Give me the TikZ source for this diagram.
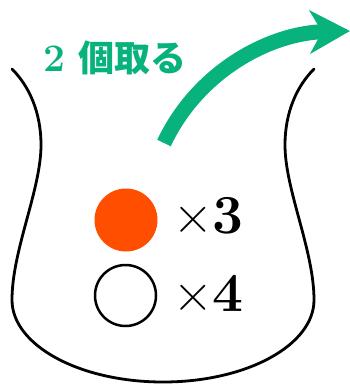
\documentclass[tikz,border=0pt]{standalone}
\usepackage{fontspec}
\newfontfamily\cjk{Noto Sans CJK JP}
\usetikzlibrary{arrows.meta}
\definecolor{pickgreen}{RGB}{8,178,124}
\definecolor{ballred}{RGB}{255,78,0}
\tikzset{
  bagline/.style={line width=2.8pt, line cap=round, line join=round, black},
  ball/.style={circle, minimum size=63pt, inner sep=0pt},
  countlabel/.style={anchor=base west, inner sep=0pt, font=\fontsize{55}{60}\selectfont},
  takelabel/.style={anchor=base west, inner sep=0pt, text=pickgreen, font=\fontsize{36}{40}\selectfont\bfseries},
  takearrow/.style={line width=15pt, pickgreen, -{Stealth[length=40pt, width=43pt, inset=12pt]}}
}
\begin{document}
\begin{tikzpicture}[x=1pt,y=-1pt]
\useasboundingbox (0,0) rectangle (350,385);
% bag
\draw[bagline] (12,69) .. controls (29,86) and (41,112) .. (41,145)
  .. controls (41,190) and (12,250) .. (12,300)
  .. controls (12,345) and (79,382) .. (163,382)
  .. controls (247,382) and (314,345) .. (314,300)
  .. controls (314,250) and (285,190) .. (285,145)
  .. controls (285,112) and (297,86) .. (314,69);
% balls
\node[ball, fill=ballred] (red) at (126,220) {};
\node[ball, draw=black, line width=2.5pt, minimum size=61pt] (white) at (125.5,295.5) {};
\node[countlabel] (redcount) at (173,233) {×\textbf{3}};
\node[countlabel] (whitecount) at (173,311) {×\textbf{4}};
% arrow
\coordinate (astart) at (164,143);
\coordinate (aend) at (350,31);
\draw[takearrow] (astart) .. controls (198,71) and (270,33) .. (aend);
\node[takelabel] (take) at (43,72) {{\fontsize{39}{40}\selectfont 2} {\cjk 個取る}};
\end{tikzpicture}
\end{document}
